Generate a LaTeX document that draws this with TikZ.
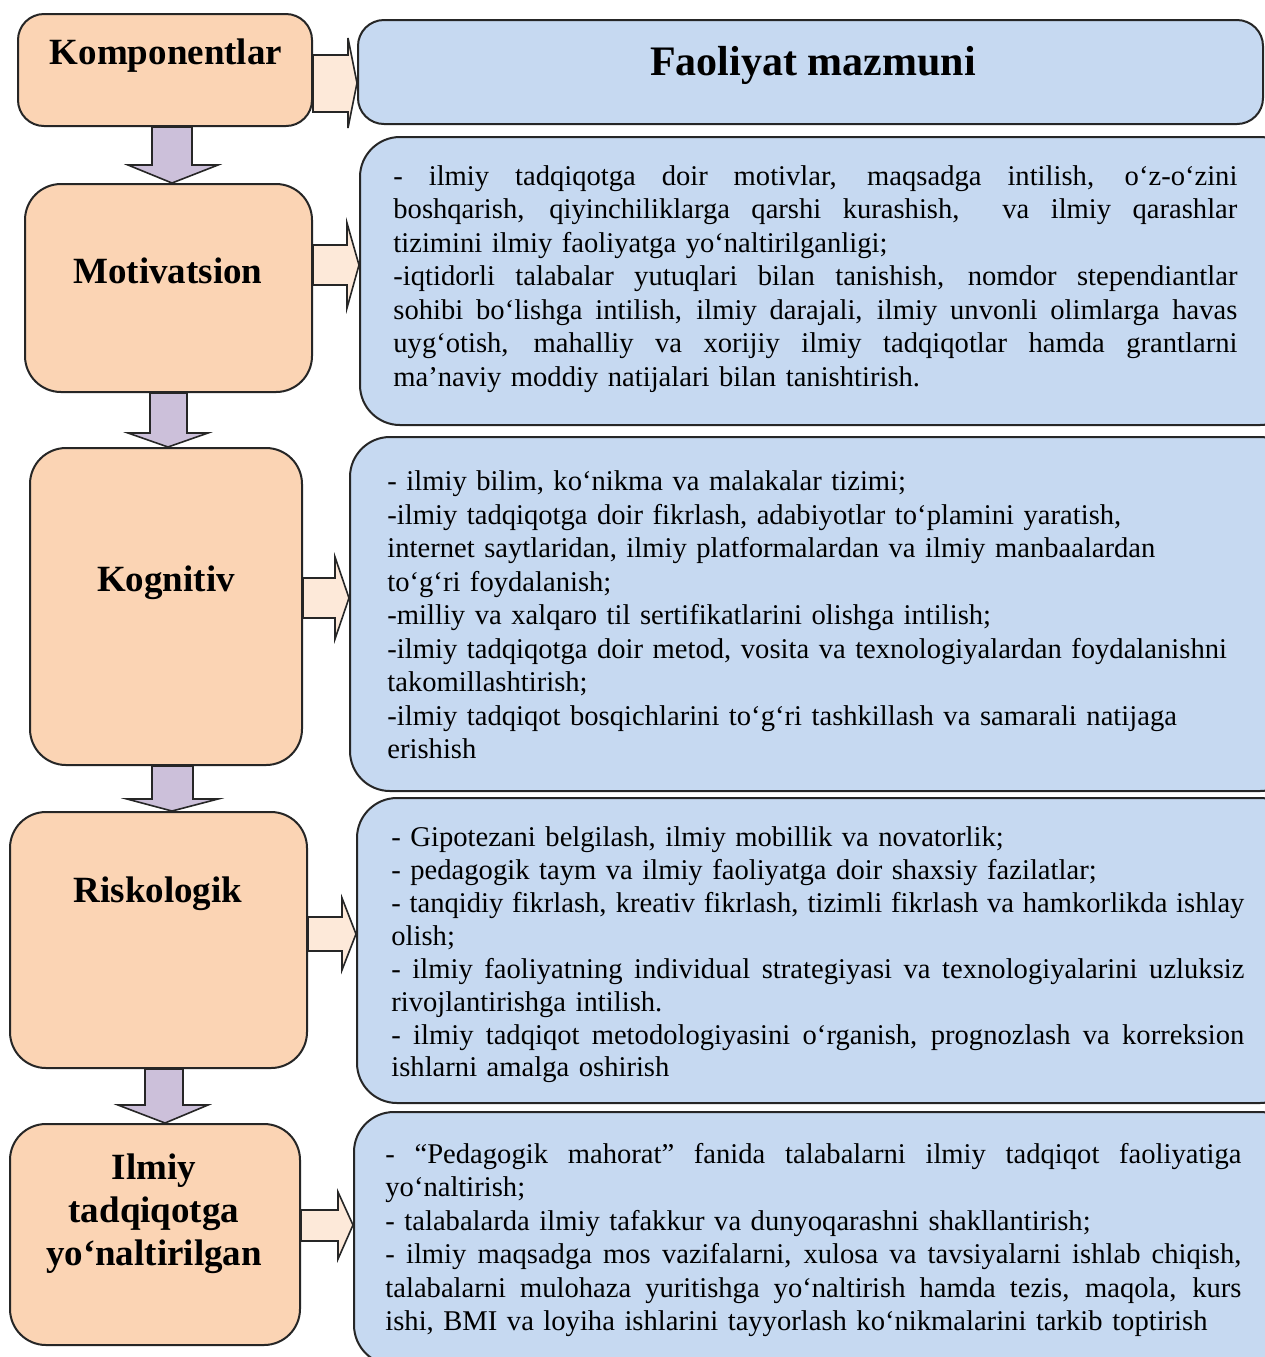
\documentclass[tikz,border=0pt]{standalone}
\usepackage{fontspec}
\setmainfont{Liberation Serif}
\usetikzlibrary{fit}
\definecolor{orangef}{HTML}{FBD4B4}
\definecolor{bluef}{HTML}{C6D9F1}
\definecolor{lavf}{HTML}{CCC0DA}
\definecolor{peachf}{HTML}{FDE9D9}
\definecolor{linec}{HTML}{262626}
\newlength\jw
\newcommand\jl[1]{\leavevmode\hbox to\jw{\spaceskip=0pt\xspaceskip=0pt #1}}
\begin{document}
\begin{tikzpicture}[x=0.5pt,y=-0.5pt,
  lbox/.style={draw=linec, line width=1pt, fill=orangef, rounded corners=18pt, inner sep=0pt},
  rbox/.style={draw=linec, line width=1pt, fill=bluef, rounded corners=20pt, inner sep=0pt},
  lab/.style={font=\fontsize{18.5}{21.5}\selectfont\bfseries, align=center, inner sep=0pt},
  ttl/.style={font=\fontsize{21}{24}\selectfont\bfseries, inner sep=0pt},
  body/.style={font=\fontsize{14.3}{16.75}\selectfont, align=left, inner sep=0pt, anchor=west},
  darr/.style={draw=linec, line width=0.8pt, fill=lavf, line join=miter},
  rarr/.style={draw=linec, line width=0.8pt, fill=peachf, line join=miter}]
\useasboundingbox (0,0) rectangle (1265,1357);
\clip (0,0) rectangle (1265,1357);
\fill[white] (0,0) rectangle (1265,1357);

% left boxes
\node[lbox, rounded corners=13pt, fit={(18,14) (312,126)}] (k1) {};
\node[lbox, fit={(25,184) (312,392)}] (k2) {};
\node[lbox, fit={(30,448) (302,765)}] (k3) {};
\node[lbox, fit={(10,812) (307,1068)}] (k4) {};
\node[lbox, fit={(10,1124) (300,1345)}] (k5) {};

% right boxes
\node[rbox, rounded corners=13pt, fit={(358,20) (1263,124)}] (f1) {};
\node[rbox, fit={(360,137) (1300,425)}] (f2) {};
\node[rbox, fit={(350,437) (1300,791)}] (f3) {};
\node[rbox, fit={(357,798) (1300,1103)}] (f4) {};
\node[rbox, fit={(354,1112) (1300,1365)}] (f5) {};

% labels
\node[lab] (t1) at (166,56) {Komponentlar};
\node[lab] (t2) at (168,271) {Motivatsion};
\node[lab] (t3) at (166,583) {Kognitiv};
\node[lab] (t4) at (158,894) {Riskologik};
\node[lab] (t5) at (154,1214) {Ilmiy\\tadqiqotga\\yo‘naltirilgan};
\node[ttl] (tt) at (813,65) {Faoliyat mazmuni};

% down arrows
\filldraw[darr] (k1.south -| 152,0) -- (152,165) -- (128,165) -- (k2.north -| 172,0) -- (218,165) -- (192,165) -- (k1.south -| 192,0) -- cycle;
\filldraw[darr] (k2.south -| 150,0) -- (150,433) -- (128,433) -- (k3.north -| 168,0) -- (208,433) -- (187,433) -- (k2.south -| 187,0) -- cycle;
\filldraw[darr] (k3.south -| 152,0) -- (152,799) -- (127,799) -- (k4.north -| 172,0) -- (218,799) -- (193,799) -- (k3.south -| 193,0) -- cycle;
\filldraw[darr] (k4.south -| 145,0) -- (145,1105) -- (118,1105) -- (k5.north -| 165,0) -- (208,1105) -- (183,1105) -- (k4.south -| 183,0) -- cycle;

% right arrows
\filldraw[rarr] (k1.east |- 0,55) -- (348,55) -- (348,38) -- (f1.west |- 0,83) -- (348,128) -- (348,112) -- (k1.east |- 0,112) -- cycle;
\filldraw[rarr] (k2.east |- 0,245) -- (347,245) -- (347,223) -- (f2.west |- 0,265) -- (347,308) -- (347,285) -- (k2.east |- 0,285) -- cycle;
\filldraw[rarr] (k3.east |- 0,578) -- (335,578) -- (335,557) -- (f3.west |- 0,598) -- (335,639) -- (335,618) -- (k3.east |- 0,618) -- cycle;
\filldraw[rarr] (k4.east |- 0,917) -- (342,917) -- (342,898) -- (f4.west |- 0,934) -- (342,970) -- (342,951) -- (k4.east |- 0,951) -- cycle;
\filldraw[rarr] (k5.east |- 0,1210) -- (338,1210) -- (338,1192) -- (f5.west |- 0,1225) -- (338,1259) -- (338,1241) -- (k5.east |- 0,1241) -- cycle;

% body texts
\node[body, text width=422pt] (b2) at (393,279) {\setlength\jw{422pt}%
\jl{- ilmiy tadqiqotga doir motivlar, maqsadga intilish, o‘z-o‘zini}\\
\jl{boshqarish, qiyinchiliklarga qarshi kurashish,\ \ va ilmiy qarashlar}\\
tizimini ilmiy faoliyatga yo‘naltirilganligi;\\
\jl{-iqtidorli talabalar yutuqlari bilan tanishish, nomdor stependiantlar}\\
\jl{sohibi bo‘lishga intilish, ilmiy darajali, ilmiy unvonli olimlarga havas}\\
\jl{uyg‘otish, mahalliy va xorijiy ilmiy tadqiqotlar hamda grantlarni}\\
ma’naviy moddiy natijalari bilan tanishtirish.};

\node[body, text width=440pt] (b3) at (387,615) {%
- ilmiy bilim, ko‘nikma va malakalar tizimi;\\
-ilmiy tadqiqotga doir fikrlash, adabiyotlar to‘plamini yaratish,\\
internet saytlaridan, ilmiy platformalardan va ilmiy manbaalardan\\
to‘g‘ri foydalanish;\\
-milliy va xalqaro til sertifikatlarini olishga intilish;\\
-ilmiy tadqiqotga doir metod, vosita va texnologiyalardan foydalanishni\\
takomillashtirish;\\
-ilmiy tadqiqot bosqichlarini to‘g‘ri tashkillash va samarali natijaga\\
erishish};

\node[body, text width=426.5pt, font=\fontsize{14.3}{16.45}\selectfont] (b4) at (391,955) {\setlength\jw{426.5pt}%
- Gipotezani belgilash, ilmiy mobillik va novatorlik;\\
- pedagogik taym va ilmiy faoliyatga doir shaxsiy fazilatlar;\\
\jl{- tanqidiy fikrlash, kreativ fikrlash, tizimli fikrlash va hamkorlikda ishlay}\\
olish;\\
\jl{- ilmiy faoliyatning individual strategiyasi va texnologiyalarini uzluksiz}\\
rivojlantirishga intilish.\\
\jl{- ilmiy tadqiqot metodologiyasini o‘rganish, prognozlash va korreksion}\\
ishlarni amalga oshirish};

\node[body, text width=428pt] (b5) at (385,1240) {\setlength\jw{428pt}%
\jl{- “Pedagogik mahorat” fanida talabalarni ilmiy tadqiqot faoliyatiga}\\
yo‘naltirish;\\
- talabalarda ilmiy tafakkur va dunyoqarashni shakllantirish;\\
\jl{- ilmiy maqsadga mos vazifalarni, xulosa va tavsiyalarni ishlab chiqish,}\\
\jl{talabalarni mulohaza yuritishga yo‘naltirish hamda tezis, maqola, kurs}\\
ishi, BMI va loyiha ishlarini tayyorlash ko‘nikmalarini tarkib toptirish};
\end{tikzpicture}
\end{document}
